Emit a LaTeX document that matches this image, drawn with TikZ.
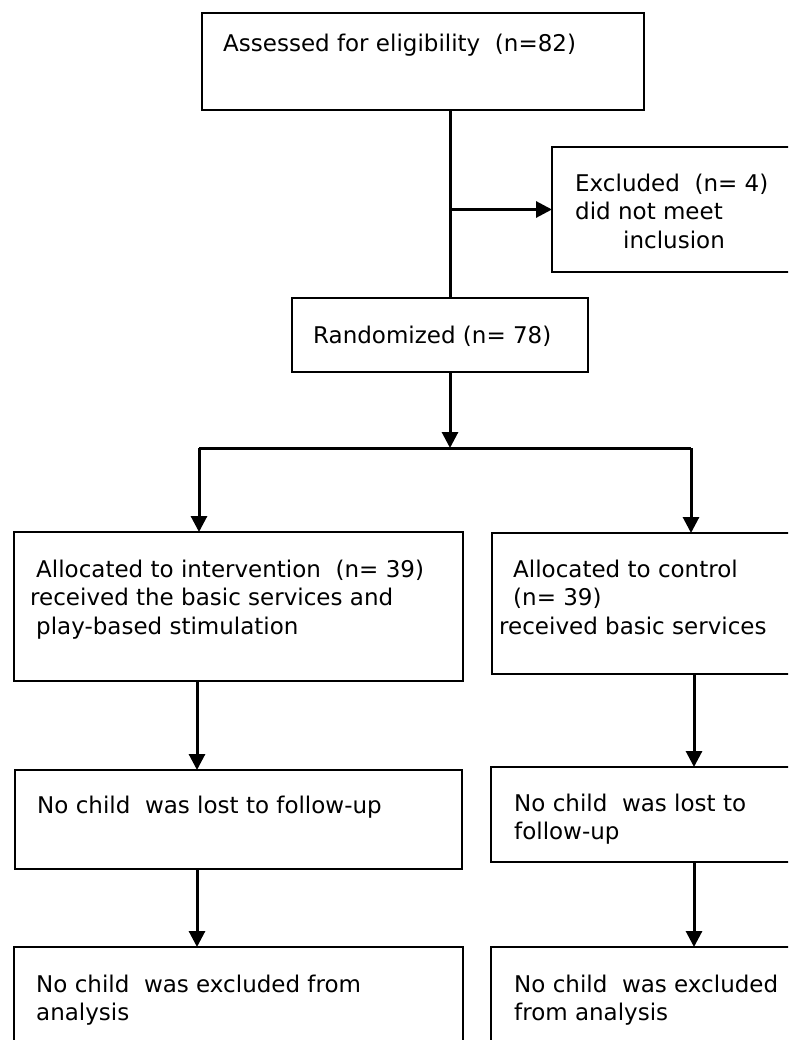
\documentclass[tikz,border=0pt]{standalone}
\usepackage{fontspec}
\setmainfont{DejaVu Sans}
\usepackage{tikz}
\usetikzlibrary{arrows.meta}

\begin{document}
\begin{tikzpicture}[
  x=1pt, y=-1pt,
  box/.style={draw, line width=1.8pt, anchor=north west, inner sep=0pt, outer sep=0pt},
  txt/.style={anchor=north west, align=left, inner sep=0pt, font=\fontsize{23}{28.5}\selectfont},
  link/.style={line width=3pt},
  pipe/.style={-{Triangle[length=16pt,width=16pt]}, line width=3pt},
]
  \useasboundingbox (0,0) rectangle (788,1040);
  \clip (0,0) rectangle (788,1040);
  % boxes
  \node[box, minimum width=442pt, minimum height=97pt] (assess) at (202,13) {};
  \node[box, minimum width=250pt, minimum height=125pt] (excl) at (552,147) {};
  \node[box, minimum width=296pt, minimum height=74pt] (rand) at (292,298) {};
  \node[box, minimum width=449pt, minimum height=149pt] (allocL) at (14,532) {};
  \node[box, minimum width=310pt, minimum height=141pt] (allocR) at (492,533) {};
  \node[box, minimum width=447pt, minimum height=99pt] (lostL) at (15,770) {};
  \node[box, minimum width=311pt, minimum height=95pt] (lostR) at (491,767) {};
  \node[box, minimum width=449pt, minimum height=113pt] (anaL) at (14,947) {};
  \node[box, minimum width=311pt, minimum height=113pt] (anaR) at (491,947) {};
  % texts
  \node[txt] (assessT) at (223,33.5) {Assessed for eligibility~~(n=82)};
  \node[txt] (exclT) at (575,173.5) {Excluded~~(n= 4)\\did not meet\\\hspace*{48pt}inclusion};
  \node[txt] (randT) at (313,325.5) {Randomized (n= 78)};
  \node[txt] (allocLT) at (30,559.5) {\hspace*{6pt}Allocated to intervention~~(n= 39)\\received the basic services and\\\hspace*{6pt}play-based stimulation};
  \node[txt] (allocRT) at (499,559.5) {\hspace*{14pt}Allocated to control\\\hspace*{14pt}(n= 39)\\received basic services};
  \node[txt] (lostLT) at (37,795.5) {No child~~was lost to follow-up};
  \node[txt] (lostRT) at (514,793.5) {No child~~was lost to\\follow-up};
  \node[txt] (anaLT) at (36,974.5) {No child~~was excluded from\\analysis};
  \node[txt] (anaRT) at (514,974.5) {No child~~was excluded\\from analysis};
  % connectors
  \coordinate (spine) at (450,448);
  \coordinate (splitL) at (199,448);
  \coordinate (splitR) at (691,448);
  \coordinate (colL) at (197,0);
  \coordinate (colR) at (694,0);
  \draw[link] (assess.south -| spine) -- (rand.north -| spine);
  \draw[pipe] (spine |- excl.west) -- (excl.west);
  \draw[pipe] (rand.south -| spine) -- (spine);
  \draw[link] (splitL) -- (splitR);
  \draw[pipe] (splitL) -- (splitL |- allocL.north);
  \draw[pipe] (splitR) -- (splitR |- allocR.north);
  \draw[pipe] (allocL.south -| colL) -- (colL |- lostL.north);
  \draw[pipe] (allocR.south -| colR) -- (colR |- lostR.north);
  \draw[pipe] (lostL.south -| colL) -- (colL |- anaL.north);
  \draw[pipe] (lostR.south -| colR) -- (colR |- anaR.north);
\end{tikzpicture}
\end{document}
